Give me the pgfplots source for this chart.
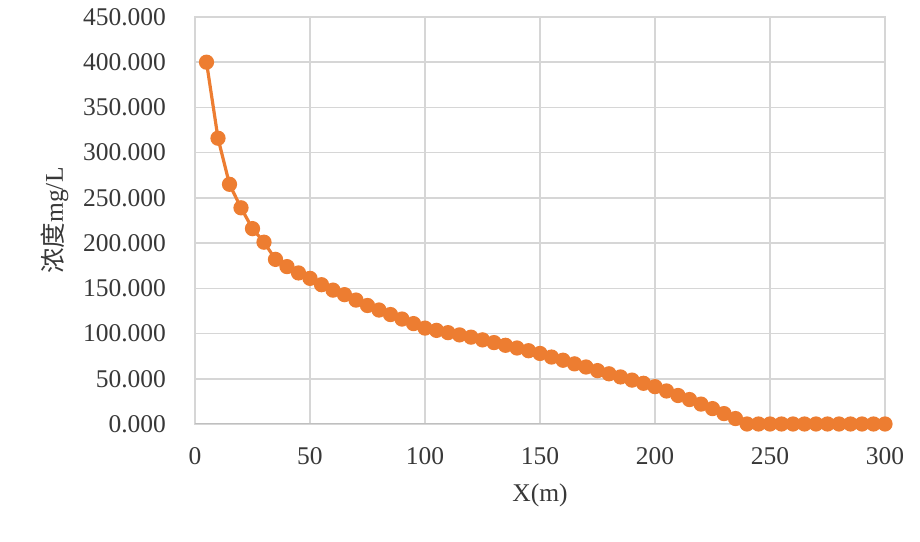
\documentclass[border=0pt]{standalone}
\usepackage{fontspec}
\setmainfont{Liberation Serif}
\newfontfamily\cjk{Noto Sans CJK SC}
\usepackage{pgfplots}
\pgfplotsset{compat=1.18}
\definecolor{lineorange}{HTML}{ED7D31}
\definecolor{gridgray}{HTML}{D6D6D6}
\definecolor{axisgray}{HTML}{BFBFBF}

\pgfplotstableread{
x y
5 400
10 316
15 265
20 239
25 216
30 201
35 182
40 174
45 167
50 161
55 154
60 148
65 143
70 137
75 131
80 126
85 121
90 116
95 111
100 106
105 103.5
110 101
115 98.5
120 96
125 93
130 90
135 87
140 84
145 81
150 78
155 74
160 70.5
165 66.5
170 63
175 59
180 55.5
185 52
190 48.5
195 45
200 41.3
205 36.5
210 31.5
215 27
220 22
225 17
230 11.5
235 6
240 0
245 0
250 0
255 0
260 0
265 0
270 0
275 0
280 0
285 0
290 0
295 0
300 0
}\conc

\begin{document}
\begin{tikzpicture}
\begin{axis}[
    scale only axis,
    width=345pt, height=203.5pt,
    xmin=0, xmax=300, ymin=0, ymax=450,
    xtick={0,50,...,300},
    ytick={0,50,...,450},
    grid=major,
    major grid style={gridgray, line width=0.75pt},
    axis line style={gridgray, line width=0.75pt},
    major tick length=0pt,
    font=\fontsize{12.75pt}{15pt}\selectfont,
    tick label style={font=\fontsize{12.75pt}{15pt}\selectfont, text=black!78},
    /pgf/number format/assume math mode=true,
    yticklabel style={xshift=-11pt,
        /pgf/number format/fixed,
        /pgf/number format/fixed zerofill,
        /pgf/number format/precision=3,
        /pgf/number format/1000 sep={}},
    xticklabel style={yshift=-8pt},
    xlabel={X(m)},
    ylabel={{\cjk 浓度}mg/L},
    xlabel style={text=black!78, yshift=-3pt},
    ylabel style={text=black!78, yshift=0.5pt},
]
\addplot[color=lineorange, line width=1.6pt, mark=*, mark size=3pt,
    mark options={fill=lineorange, draw=lineorange}] table[x=x, y=y] {\conc};
\draw[axisgray, line width=0.75pt] (rel axis cs:0,0) -- (rel axis cs:1,0);
\coordinate (sw) at (rel axis cs:0,0);
\coordinate (ne) at (rel axis cs:1,1);
\end{axis}
\pgfresetboundingbox
\path[use as bounding box] ([shift={(-97.5pt,-59pt)}]sw) rectangle ([shift={(17.5pt,8.5pt)}]ne);
\end{tikzpicture}
\end{document}
